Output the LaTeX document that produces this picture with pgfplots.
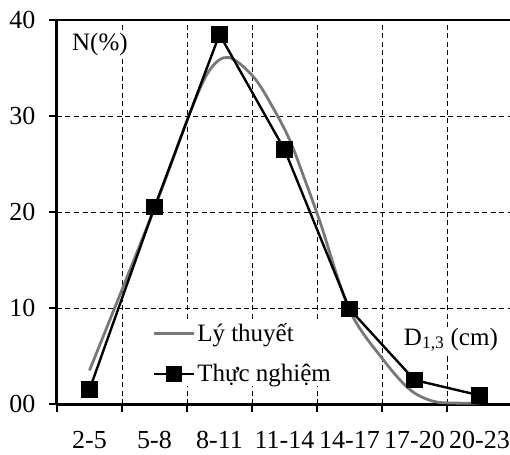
\documentclass[border=0pt]{standalone}
\usepackage{pgfplots}
\pgfplotsset{compat=1.18}
\usepackage{fontspec}
\setmainfont{Liberation Serif}
\definecolor{theo}{RGB}{120,120,120}
\begin{document}
\begin{tikzpicture}
\begin{axis}[name=ax, scale only axis, width=455pt, height=384pt,
 xmin=-0.5, xmax=6.5, ymin=0, ymax=40,
 axis x line*=bottom, axis y line*=left,
 axis line style={line width=3pt,-},
 xtick={-0.5,0.5,...,6.5}, x tick label as interval,
 xticklabels={2-5,5-8,8-11,11-14,14-17,17-20,20-23},
 ytick={0,10,20,30,40}, yticklabels={00,10,20,30,40},
 tick align=outside, major tick length=8pt,
 tick style={black, line width=1.2pt},
 grid=major, grid style={black, line width=0.9pt, dash pattern=on 5pt off 3.5pt},
 /pgf/number format/assume math mode=true,
 tick label style={font=\fontsize{26}{29}\selectfont},
 xticklabel style={yshift=-16pt},
 yticklabel style={xshift=-10pt},
 legend style={at={(axis cs:0.95,8.7)}, anchor=north west, draw=none, fill=white,
   font=\fontsize{25}{28}\selectfont, row sep=17pt, inner sep=1pt},
 legend cell align=left,
 legend image code/.code={\draw[mark repeat=2,mark phase=2] plot coordinates {(0pt,0pt) (20pt,0pt) (40pt,0pt)};},
 clip=false,
]
\addplot[theo, line width=2.8pt, smooth, tension=0.55] coordinates {
 (0.0,3.5) (1.0,20.4) (1.55,30.4) (1.85,34.8) (2.14,36.1) (2.52,34.1) (2.82,30.9) (3.08,27.5) (3.3,23.6) (3.55,18.9) (4.0,9.8) (4.52,4.6) (4.93,1.5) (5.28,0.3) (5.6,0.1) (6.0,0.1)
};
\addlegendentry{Lý thuyết}
\addplot[black, line width=2.4pt, mark=square*, mark size=7pt] coordinates {
 (0,1.5) (1,20.5) (2,38.5) (3,26.5) (4,9.9) (5,2.5) (6,0.9)
};
\addlegendentry{Thực nghiệm}
\draw[black, line width=2pt] (rel axis cs:0,1) -- (rel axis cs:1,1);
\node[fill=white, inner sep=1pt, font=\fontsize{25}{28}\selectfont] at (axis cs:0.16,37.4) {N(\%)};
\node[fill=white, inner sep=1pt, font=\fontsize{25}{28}\selectfont] at (axis cs:5.56,6.7) {D\textsubscript{1,3} (cm)};
\end{axis}
\pgfresetboundingbox
\path[use as bounding box] ([xshift=-57pt,yshift=-50pt]ax.south west) rectangle ([xshift=-2pt,yshift=20pt]ax.north east);
\end{tikzpicture}
\end{document}
